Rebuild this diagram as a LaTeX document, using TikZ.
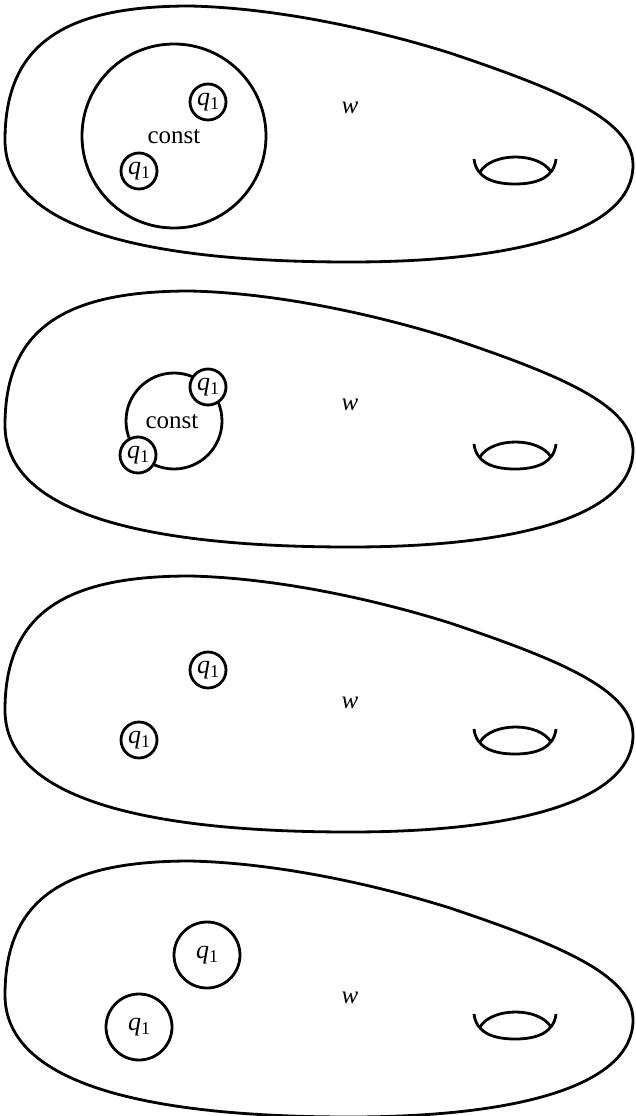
\documentclass[tikz,border=0pt]{standalone}
\usepackage{fontspec}
\setmainfont{Liberation Serif}
\newcommand{\qone}{\textit{q}\raisebox{-4.5pt}{\fontsize{18}{18}\selectfont 1}}
\tikzset{
  line/.style={line width=2.8pt},
  qnode/.style={draw, circle, line width=2.8pt, fill=white, inner sep=0pt, minimum size=36pt, font=\fontsize{26}{26}\selectfont},
  bigq/.style={qnode, minimum size=66pt},
  lbl/.style={font=\fontsize{25}{25}\selectfont, inner sep=0pt},
  blob/.pic={
    \draw[line] (5,140) .. controls (5,40) and (70,6) .. (190,6)
      .. controls (280,8) and (380,31) .. (450,53)
      .. controls (560,90) and (633,120) .. (633,165)
      .. controls (633,230) and (520,262) .. (350,262)
      .. controls (150,262) and (5,230) .. cycle;
    \draw[line] (474,159) .. controls (476,177) and (492,184) .. (515,184)
      .. controls (538,184) and (554,177) .. (556,159);
    \draw[line] (480,172) .. controls (492,152) and (539,152) .. (551,172);
  }
}
\begin{document}
\begin{tikzpicture}[x=1pt,y=-1pt]
\useasboundingbox (0,0) rectangle (635,1116);
% panel 1
\pic at (0,0) {blob};
\draw[line] (174,136) circle[radius=92];
\node[lbl] (c1) at (174,137) {const};
\node[qnode] (a1) at (208,102) {\qone};
\node[qnode] (b1) at (139,171) {\qone};
\node[lbl] (w1) at (350,108) {\textit{w}};
% panel 2
\pic at (0,285) {blob};
\draw[line] (174,421) circle[radius=48];
\node[lbl] (c2) at (172,422) {const};
\node[qnode] (a2) at (208,387) {\qone};
\node[qnode] (b2) at (138,455) {\qone};
\node[lbl] (w2) at (350,405) {\textit{w}};
% panel 3
\pic at (0,570) {blob};
\node[qnode] (a3) at (208,670) {\qone};
\node[qnode] (b3) at (139,740) {\qone};
\node[lbl] (w3) at (350,703) {\textit{w}};
% panel 4
\pic at (0,855) {blob};
\node[bigq] (a4) at (207,955) {\qone};
\node[bigq] (b4) at (139,1027) {\qone};
\node[lbl] (w4) at (350,998) {\textit{w}};
\end{tikzpicture}
\end{document}
